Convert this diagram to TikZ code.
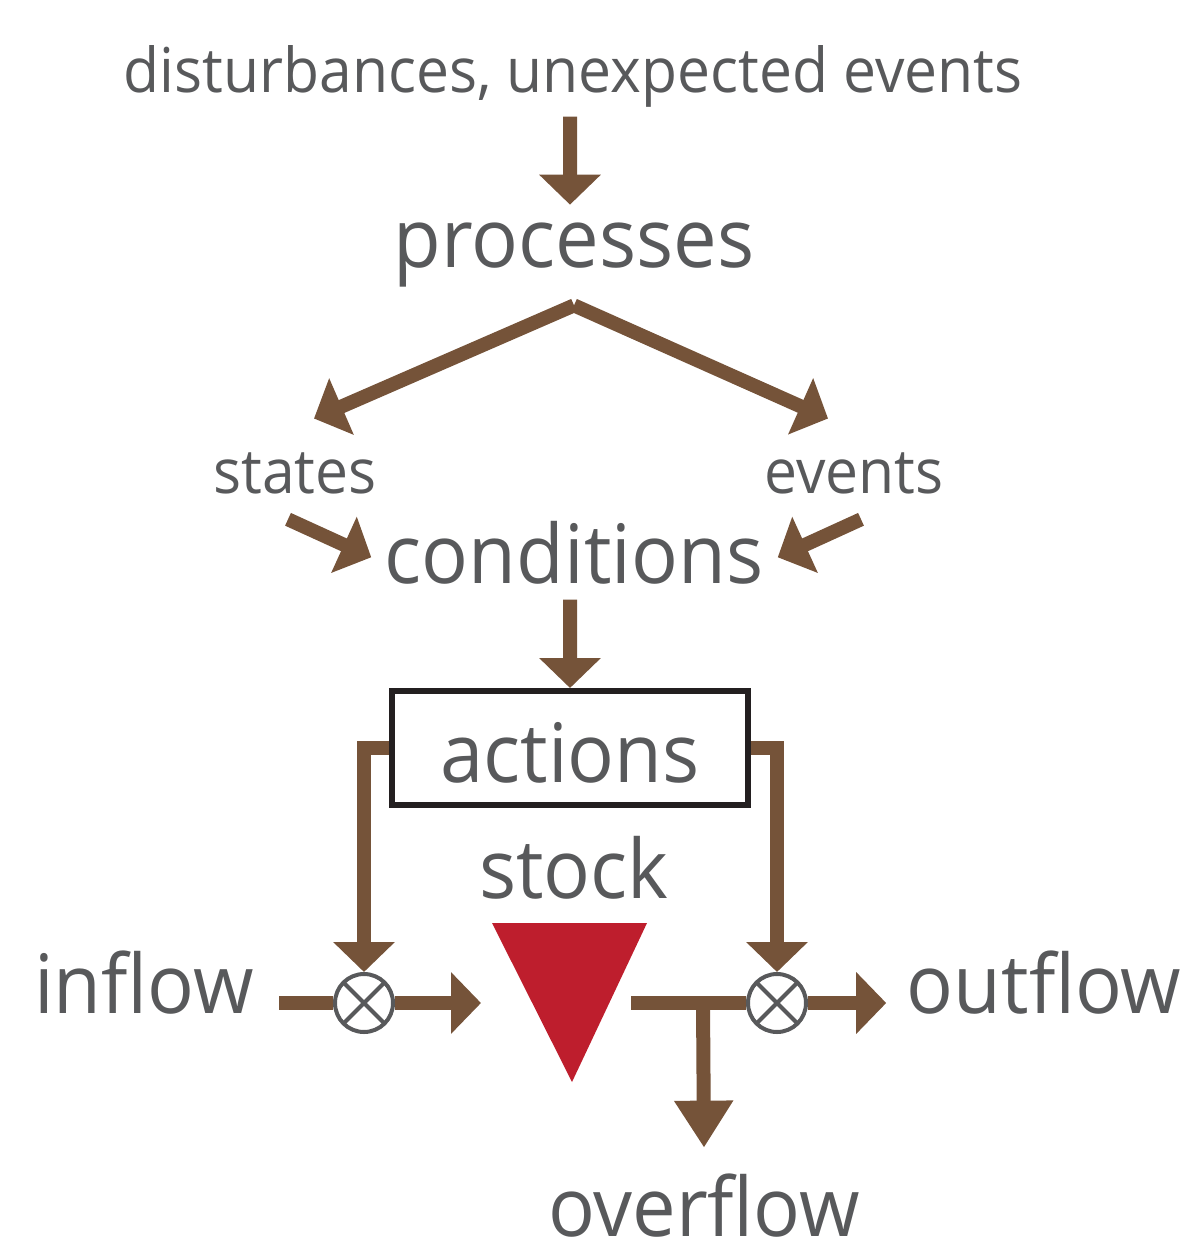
\documentclass[tikz,border=0pt]{standalone}
\usepackage{fontspec}
\setmainfont[FakeStretch=0.95]{Open Sans}
\usepackage{tikz}
\usetikzlibrary{arrows.meta,calc}
\definecolor{flowbrown}{HTML}{755339}
\definecolor{labelgray}{HTML}{58595B}
\definecolor{stockred}{HTML}{BE1E2D}
\definecolor{boxblack}{HTML}{231F20}

\begin{document}
\begin{tikzpicture}[line join=miter,
		flow/.style={draw=flowbrown,line width=0.14cm,-{Triangle[width=0.6cm,length=0.3cm]}},
		flowlong/.style={draw=flowbrown,line width=0.14cm,-{Triangle[width=0.56cm,length=0.47cm]}},
		pipe/.style={draw=flowbrown,line width=0.14cm}]
		\tikzstyle{big}=[anchor=base,inner sep=0pt,text=labelgray,font=\fontsize{23.3}{28}\selectfont]
		\tikzstyle{small}=[anchor=base,inner sep=0pt,text=labelgray,font=\fontsize{17.6}{21}\selectfont]
		\tikzstyle{actbox}=[draw=boxblack,line width=0.06cm,minimum width=3.56cm,minimum height=1.14cm,
			text height=0.68cm,text depth=0cm,inner sep=0pt,text=labelgray,font=\fontsize{23.3}{28}\selectfont]
		\tikzstyle{valve}=[circle,draw=labelgray,fill=white,line width=0.04cm,minimum size=0.58cm,inner sep=0pt,
			path picture={\draw[labelgray,line width=0.04cm]
				(path picture bounding box.north west) -- (path picture bounding box.south east)
				(path picture bounding box.north east) -- (path picture bounding box.south west);}]
		
		\useasboundingbox (0,0) rectangle (11.96,-12.53);
		
		\node[small] (dist)    at (5.73,-0.93)  {disturbances, unexpected events};
		\node[big]   (proc)    at (5.74,-2.67)  {processes};
		\node[small] (states)  at (2.95,-4.93)  {states};
		\node[small] (events)  at (8.54,-4.93)  {events};
		\node[big]   (cond)    at (5.74,-5.83)  {conditions};
		\node[actbox] (act)    at (5.70,-7.48)  {actions};
		\node[big]   (stock)   at (5.74,-8.98)  {stock};
		\node[big]   (inflow)  at (1.44,-10.13) {inflow};
		\node[big]   (outflow) at (10.44,-10.13) {outflow};
		\node[big]   (over)    at (7.04,-12.36) {overflow};
		\node[valve] (vin)     at (3.64,-10.03) {};
		\node[valve] (vout)    at (7.77,-10.03) {};
		
		\coordinate (fork) at ([yshift=-0.18cm]proc.south);
		\coordinate (tankin) at (4.81,-10.03);
		\coordinate (tankout) at (6.31,-10.03);
		\coordinate (tee) at (7.03,-10.03);
		
		% stock
		\fill[stockred] (4.92,-9.23) -- (6.47,-9.23) -- (5.72,-10.82) -- cycle;
		
		\draw[flow] ([shift={(-0.03,-0.08)}]dist.south) -- ([shift={(-0.04,0.17)}]proc.north);
		\draw[flow] (fork) -- ([shift={(0.19,0.33)}]states.north);
		\draw[flow] (fork) -- ([shift={(-0.26,0.33)}]events.north);
		\draw[flow] ([shift={(-0.07,-0.25)}]states.south) -- ([shift={(-0.13,-0.05)}]cond.west);
		\draw[flow] ([shift={(0.07,-0.25)}]events.south) -- ([shift={(0.14,-0.05)}]cond.east);
		\draw[flow] ([shift={(-0.04,-0.15)}]cond.south) -- (act.north);
		
		% control lines
		\draw[flow] (act.west) -| (vin.north);
		\draw[flow] (act.east) -| (vout.north);
		
		% flows
		\draw[pipe] ([xshift=0.25cm]inflow.east |- vin) -- (vin.west);
		\draw[flow] (vin.east) -- (tankin);
		\draw[pipe] (tankout) -- (vout.west);
		\draw[flow] (vout.east) -- ([xshift=-0.2cm]outflow.west |- vout);
		\draw[flowlong] (tee) -- ([yshift=0.25cm]over.north);
\end{tikzpicture}
\end{document}
